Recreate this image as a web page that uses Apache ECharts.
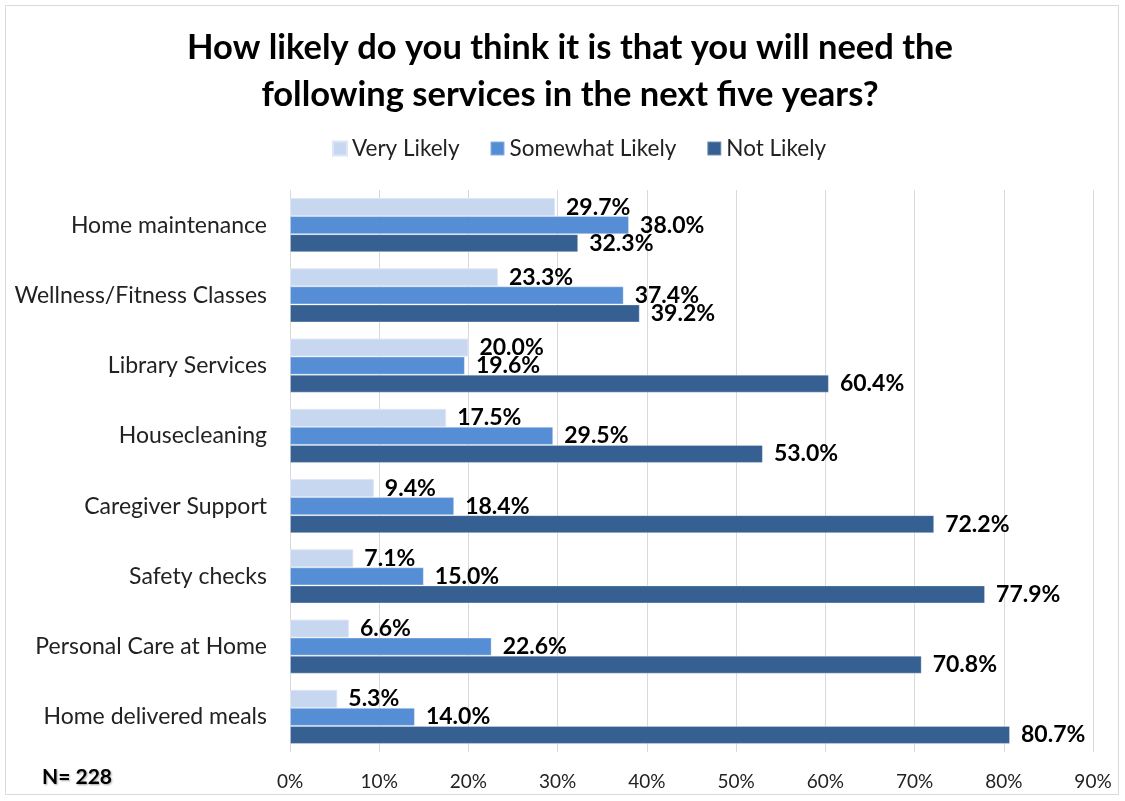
<!DOCTYPE html>
<html><head><meta charset="utf-8">
<script src="https://cdn.jsdelivr.net/npm/echarts@6/dist/echarts.min.js"></script>
<style>html,body{margin:0;padding:0;background:#fff}#c{width:1125px;height:801px}</style>
</head><body><div id="c"></div>
<script>
const categories = ["Home maintenance","Wellness/Fitness Classes","Library Services","Housecleaning","Caregiver Support","Safety checks","Personal Care at Home","Home delivered meals"];
const veryLikely = [29.7,23.3,20.0,17.5,9.4,7.1,6.6,5.3];
const somewhatLikely = [38.0,37.4,19.6,29.5,18.4,15.0,22.6,14.0];
const notLikely = [32.3,39.2,60.4,53.0,72.2,77.9,70.8,80.7];
const seriesNames = ["Very Likely","Somewhat Likely","Not Likely"];
const colors = ["#c6d7ef","#558ed5","#366092"];
const FONT = "Lato, 'Open Sans', sans-serif";
const chart = echarts.init(document.getElementById('c'));
const lbl = {show:true,position:'right',distance:11,color:'#000',fontWeight:'bold',fontSize:23,fontFamily:FONT,formatter:p=>p.value.toFixed(1)+'%'};
const mk = (name,data,i)=>({name,type:'bar',data,barGap:'0%',barCategoryGap:'23%',itemStyle:{color:colors[i],borderColor:i===0?'#dde6f4':'rgba(255,255,255,0.3)',borderWidth:1},label:lbl,z:2});
chart.setOption({
  animation:false,
  title:{text:"How likely do you think it is that you will need the\nfollowing services in the next five years?",left:565,textAlign:'center',top:19,textStyle:{fontFamily:FONT,fontSize:34.5,fontWeight:'bold',color:'#000',lineHeight:47}},
  legend:{top:132,left:327,itemWidth:14,itemHeight:14,itemGap:30,icon:'rect',textStyle:{fontFamily:FONT,fontSize:22.5,color:'#222'},data:seriesNames},
  graphic:[
    {type:'rect',shape:{x:5.5,y:5.5,width:1113,height:789},style:{fill:'none',stroke:'#d9d9d9',lineWidth:1},z:0},
    {type:'text',left:42,top:767,style:{text:'N= 228',fontFamily:FONT,fontSize:21,fontWeight:'bold',fill:'#000',textShadowColor:'rgba(0,0,0,0.35)',textShadowBlur:2,textShadowOffsetX:1,textShadowOffsetY:1}}
  ],
  grid:{left:290,right:32,top:190,bottom:49,containLabel:false},
  xAxis:{type:'value',min:0,max:90,interval:10,axisLine:{show:false},axisTick:{show:false},
    splitLine:{show:true,lineStyle:{color:'#d9d9d9',width:1}},
    axisLabel:{formatter:'{value}%',fontFamily:FONT,fontSize:19,color:'#222',margin:20}},
  yAxis:{type:'category',data:categories,inverse:true,axisLine:{show:false},axisTick:{show:false},
    axisLabel:{fontFamily:FONT,fontSize:23,color:'#222',margin:23}},
  series:[mk(seriesNames[0],veryLikely,0),mk(seriesNames[1],somewhatLikely,1),mk(seriesNames[2],notLikely,2)]
});
</script></body></html>
